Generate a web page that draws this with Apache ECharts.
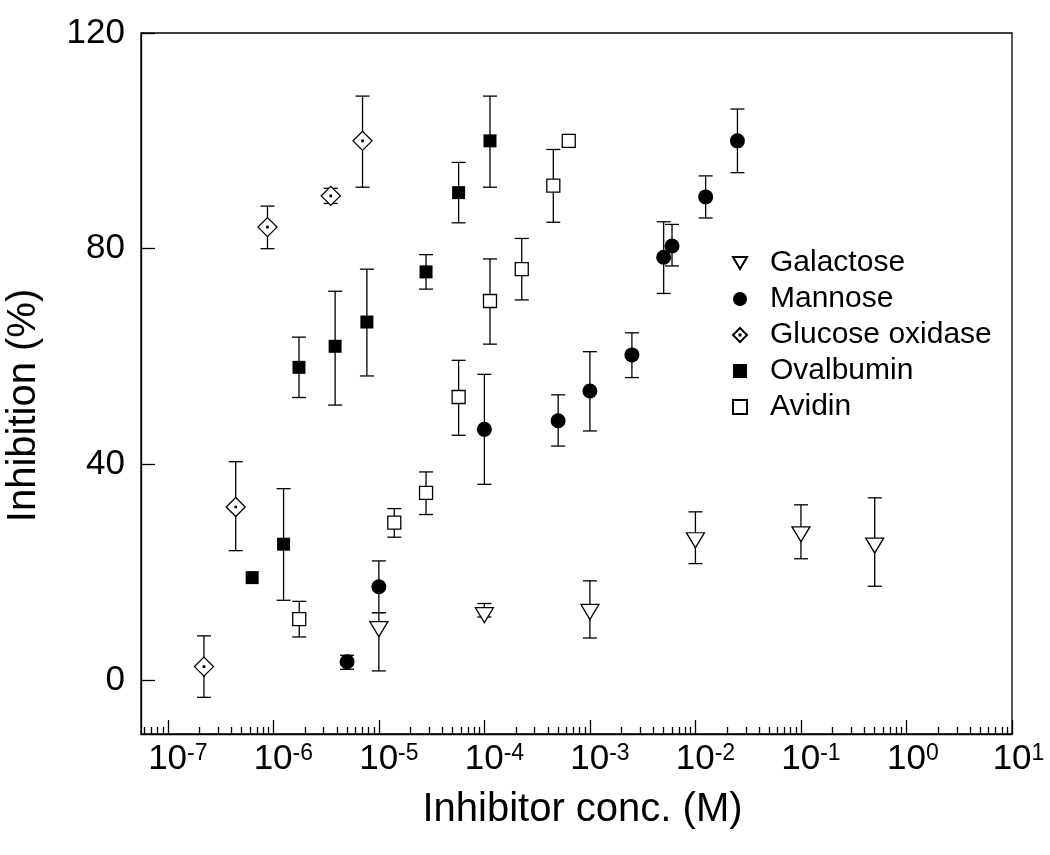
<!DOCTYPE html>
<html>
<head>
<meta charset="utf-8">
<script src="https://cdn.jsdelivr.net/npm/echarts@6/dist/echarts.min.js"></script>
<style>html,body{margin:0;padding:0;background:#fff}#chart{width:1050px;height:855px}</style>
</head>
<body>
<div id="chart"></div>
<script>
// ---- data ----
const galX  = [1e-5, 1e-4, 1e-3, 1e-2, 1e-1, 0.5];
const galY  = [9.9, 12.5, 13.1, 26.4, 27.5, 25.4];
const galLo = [1.7, 11.7, 7.8, 21.6, 22.5, 17.4];
const galHi = [12.5, 14.2, 18.4, 31.2, 32.5, 33.8];

const manX  = [5.0e-6, 1.0e-5, 1.0e-4, 5.0e-4, 1.0e-3, 2.5e-3, 5.0e-3, 6.0e-3, 1.25e-2, 2.5e-2];
const manY  = [3.4, 17.3, 46.5, 48.1, 53.6, 60.3, 78.4, 80.5, 89.6, 100.0];
const manLo = [2.0, 12.5, 36.3, 43.4, 46.2, 56.1, 71.7, 76.8, 85.7, 94.1];
const manHi = [4.6, 22.1, 56.7, 52.9, 60.9, 64.4, 85.0, 84.5, 93.5, 105.9];

const gloX  = [2.2e-7, 4.4e-7, 8.8e-7, 3.5e-6, 7.0e-6];
const gloY  = [2.5, 32.1, 84.0, 89.8, 100.0];
const gloLo = [-3.2, 24.0, 80.0, 88.4, 91.4];
const gloHi = [8.2, 40.5, 87.9, 91.2, 108.3];

const ovaX  = [6.3e-7, 1.25e-6, 1.75e-6, 3.85e-6, 7.7e-6, 2.8e-5, 5.7e-5, 1.13e-4];
const ovaY  = [19.0, 25.2, 58.0, 61.9, 66.4, 75.7, 90.4, 100.0];
const ovaLo = [19.0, 14.8, 52.4, 51.0, 56.4, 72.5, 84.8, 91.4];
const ovaHi = [19.0, 35.5, 63.6, 72.1, 76.2, 78.9, 96.0, 108.3];

const aviX  = [1.76e-6, 1.4e-5, 2.8e-5, 5.7e-5, 1.13e-4, 2.26e-4, 4.5e-4, 6.3e-4];
const aviY  = [11.3, 29.2, 34.7, 52.5, 70.3, 76.2, 91.7, 100.0];
const aviLo = [8.0, 26.5, 30.7, 45.4, 62.3, 70.5, 84.9, 100.0];
const aviHi = [14.6, 31.8, 38.6, 59.3, 78.1, 81.9, 98.4, 100.0];

const seriesNames = ['Galactose', 'Mannose', 'Glucose oxidase', 'Ovalbumin', 'Avidin'];
const xMajorTicks = [1e-7, 1e-6, 1e-5, 1e-4, 1e-3, 1e-2, 1e-1, 1e0, 1e1];
const yTicks = [0, 40, 80, 120];
const xMin = 5.57e-8, xMax = 10;
const yMin = -10, yMax = 120;

// minor ticks 2..9 x 10^n
const xMinorTicks = [];
for (let e = -8; e <= 0; e++) {
  for (let m = 2; m <= 9; m++) {
    const v = m * Math.pow(10, e);
    if (v >= xMin && v <= xMax) xMinorTicks.push(Number(v.toPrecision(3)));
  }
}

const pts = (xs, ys) => xs.map((x, i) => [x, ys[i]]);
const errs = (xs, lo, hi) => xs.map((x, i) => [x, lo[i], hi[i]]);

function errRender(params, api) {
  const x = api.value(0), lo = api.value(1), hi = api.value(2);
  if (hi - lo < 0.05) return null;
  const p1 = api.coord([x, hi]), p2 = api.coord([x, lo]);
  const hw = 7;
  const st = { stroke: '#000', lineWidth: 1.3, fill: null };
  return {
    type: 'group',
    children: [
      { type: 'line', shape: { x1: p1[0], y1: p1[1], x2: p2[0], y2: p2[1] }, style: st },
      { type: 'line', shape: { x1: p1[0] - hw, y1: p1[1], x2: p1[0] + hw, y2: p1[1] }, style: st },
      { type: 'line', shape: { x1: p2[0] - hw, y1: p2[1], x2: p2[0] + hw, y2: p2[1] }, style: st }
    ]
  };
}

const FONT = 'Liberation Sans, Arial, sans-serif';
const triDown = 'path://M-10,-8 L10,-8 L0,9 Z';
const diamondDot = 'path://M0,-10 L10,0 L0,10 L-10,0 Z M-0.7,-0.7 L0.7,-0.7 L0.7,0.7 L-0.7,0.7 Z';

const openStyle = { color: '#fff', borderColor: '#000', borderWidth: 1.3, opacity: 1 };
const fillStyle = { color: '#000', borderColor: '#000', borderWidth: 0, opacity: 1 };

function errSeries(name, data) {
  return {
    type: 'custom', name: name, xAxisIndex: 0, yAxisIndex: 0,
    renderItem: errRender, data: data, z: 2, silent: true,
    encode: { x: 0, y: [1, 2] }
  };
}

const chart = echarts.init(document.getElementById('chart'), null, { renderer: 'canvas' });
chart.setOption({
  animation: false,
  backgroundColor: '#fff',
  textStyle: { fontFamily: FONT },
  grid: {
    left: 141, top: 33, width: 871, height: 701,
    containLabel: false, outerBoundsMode: 'none',
    show: true, borderColor: '#000', borderWidth: 1.3, backgroundColor: 'transparent'
  },
  legend: {
    data: seriesNames,
    orient: 'vertical',
    left: 727, top: 243,
    itemWidth: 14, itemHeight: 14,
    itemGap: 6,
    textStyle: { fontSize: 30, fontFamily: FONT, color: '#000', lineHeight: 30, padding: [0, 0, 0, 18] },
    inactiveColor: '#000'
  },
  xAxis: [
    {
      type: 'log', logBase: 10, min: xMin, max: xMax,
      name: 'Inhibitor conc. (M)', nameLocation: 'middle', nameGap: 56,
      nameTextStyle: { fontSize: 40, fontFamily: FONT, color: '#000', padding: [0, 0, 0, 12] },
      axisLine: { show: true, onZero: false, lineStyle: { color: '#000', width: 1.3 } },
      axisTick: { show: true, inside: true, length: 14, customValues: xMajorTicks, lineStyle: { color: '#000', width: 1.3 } },
      axisLabel: {
        show: true, customValues: xMajorTicks, margin: 8, color: '#000',
        formatter: function (v) {
          const e = Math.round(Math.log10(v));
          const s = String(e);
          const pad = s.length > 1 ? 'p2' : 'p1';
          return '{' + pad + '|}{b|10}{s|' + s + '}';
        },
        rich: {
          b: { fontSize: 35, fontFamily: FONT, color: '#000' },
          s: { fontSize: 23, fontFamily: FONT, color: '#000', verticalAlign: 'top' },
          p1: { width: 13 },
          p2: { width: 20 }
        }
      },
      splitLine: { show: false }, minorTick: { show: false }
    },
    {
      type: 'log', logBase: 10, min: xMin, max: xMax, position: 'bottom',
      axisLine: { show: false, onZero: false },
      axisTick: { show: true, inside: true, length: 7, customValues: xMinorTicks, lineStyle: { color: '#000', width: 1.3 } },
      axisLabel: { show: false },
      splitLine: { show: false }
    }
  ],
  yAxis: {
    type: 'value', min: yMin, max: yMax,
    name: 'Inhibition (%)', nameLocation: 'middle', nameGap: 97, nameRotate: 90,
    nameTextStyle: { fontSize: 40, fontFamily: FONT, color: '#000', padding: [0, 44, 0, 0] },
    axisLine: { show: true, onZero: false, lineStyle: { color: '#000', width: 1.3 } },
    axisTick: { show: true, inside: true, length: 14, customValues: yTicks, lineStyle: { color: '#000', width: 1.3 } },
    axisLabel: { show: true, customValues: yTicks, margin: 16, fontSize: 35, fontFamily: FONT, color: '#000' },
    splitLine: { show: false }
  },
  series: [
    errSeries('err-gal', errs(galX, galLo, galHi)),
    errSeries('err-man', errs(manX, manLo, manHi)),
    errSeries('err-glo', errs(gloX, gloLo, gloHi)),
    errSeries('err-ova', errs(ovaX, ovaLo, ovaHi)),
    errSeries('err-avi', errs(aviX, aviLo, aviHi)),
    { type: 'scatter', name: 'Galactose', data: pts(galX, galY), symbol: triDown, symbolSize: [18, 15], symbolOffset: [0, 2.5], itemStyle: openStyle, z: 3 },
    { type: 'scatter', name: 'Mannose', data: pts(manX, manY), symbol: 'circle', symbolSize: 15, itemStyle: fillStyle, z: 3 },
    { type: 'scatter', name: 'Glucose oxidase', data: pts(gloX, gloY), symbol: diamondDot, symbolSize: 19, itemStyle: openStyle, z: 3 },
    { type: 'scatter', name: 'Ovalbumin', data: pts(ovaX, ovaY), symbol: 'rect', symbolSize: 13, itemStyle: fillStyle, z: 3 },
    { type: 'scatter', name: 'Avidin', data: pts(aviX, aviY), symbol: 'rect', symbolSize: 13, itemStyle: openStyle, z: 3 }
  ]
});
</script>
</body>
</html>
